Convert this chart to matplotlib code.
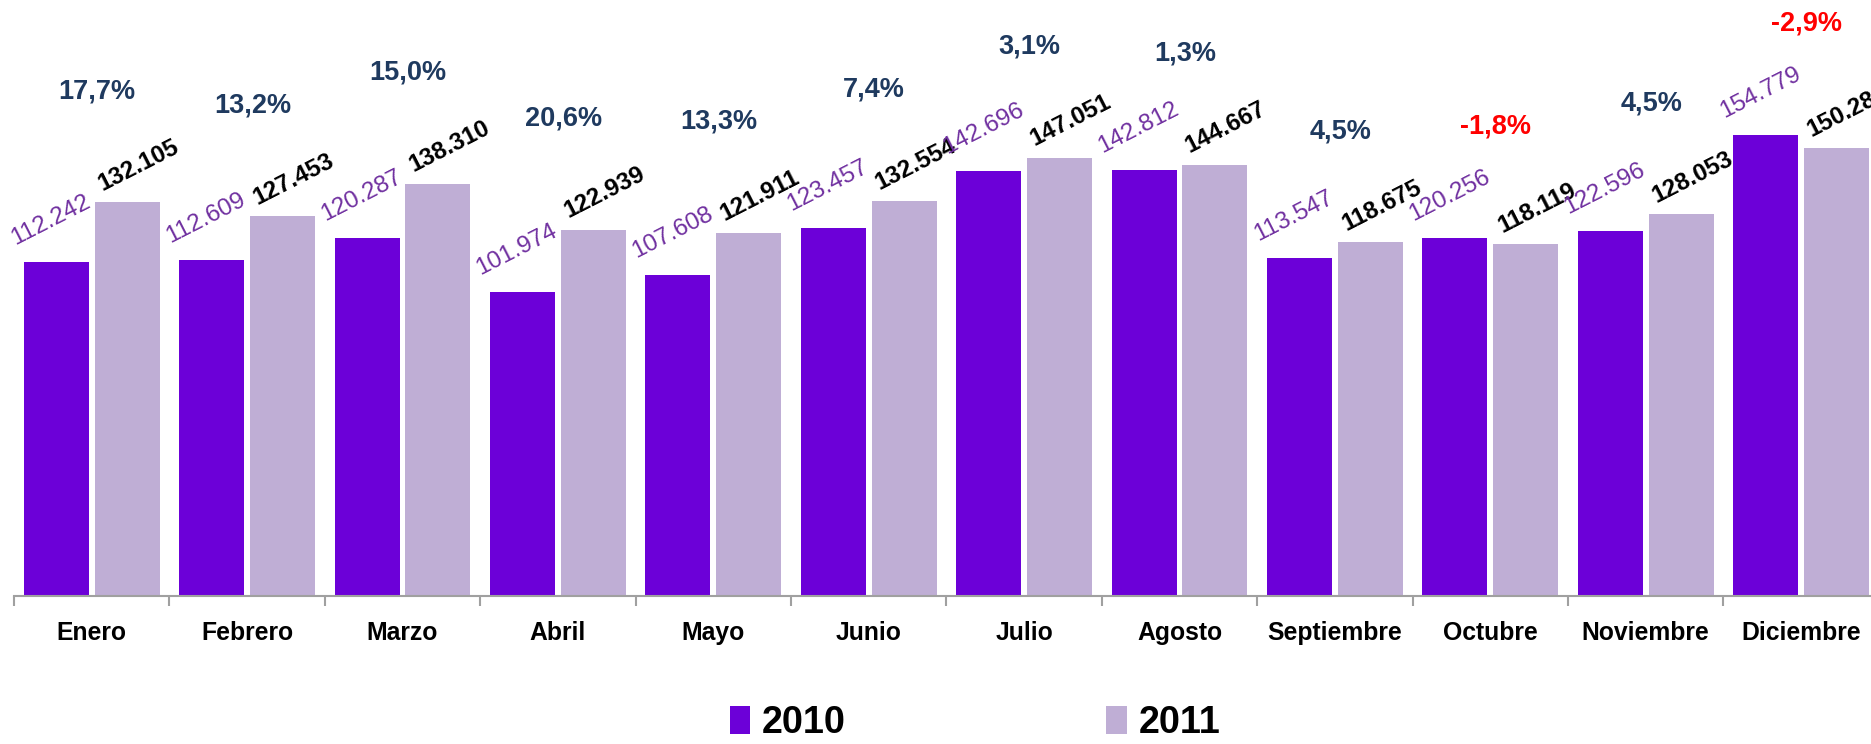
import numpy as np
import matplotlib
matplotlib.use("Agg")
import matplotlib.pyplot as plt
from matplotlib import font_manager
from matplotlib.patches import Patch

# ---- data (thousands) ----
months = ["Enero", "Febrero", "Marzo", "Abril", "Mayo", "Junio", "Julio",
          "Agosto", "Septiembre", "Octubre", "Noviembre", "Diciembre"]
vals_2010 = [112.242, 112.609, 120.287, 101.974, 107.608, 123.457,
             142.696, 142.812, 113.547, 120.256, 122.596, 154.779]
vals_2011 = [132.105, 127.453, 138.310, 122.939, 121.911, 132.554,
             147.051, 144.667, 118.675, 118.119, 128.053, 150.283]
growth_pct = [17.7, 13.2, 15.0, 20.6, 13.3, 7.4, 3.1, 1.3, 4.5, -1.8, 4.5, -2.9]

C_2010 = "#6C00D8"
C_2011 = "#BFAED5"
C_LBL_2010 = "#7030A0"
C_PCT = "#1F3A5F"
C_NEG = "#FF0000"

# narrow bold font for axis text, if present
try:
    font_manager.findfont("Liberation Sans Narrow", fallback_to_default=False)
    NARROW = "Liberation Sans Narrow"
    k = 1.0
except Exception:
    NARROW = "Liberation Sans"
    k = 0.85

fig = plt.figure(figsize=(18.71, 7.44), dpi=100)
ax = fig.add_axes([14 / 1871, 148 / 744, 12 * 155.4 / 1871, 1 - 148 / 744])

x = np.arange(len(months))
w = 0.418
off = 0.228
ax.bar(x - off, vals_2010, w, color=C_2010, label="2010")
ax.bar(x + off, vals_2011, w, color=C_2011, label="2011")

ax.set_xlim(-0.5, len(months) - 0.5)
ax.set_ylim(0, 200)

# value labels
for i in range(len(months)):
    ax.annotate(f"{vals_2010[i]:.3f}", (x[i] - off, vals_2010[i]),
                xytext=(-4, 9), textcoords="offset points",
                ha="center", va="bottom", rotation=27,
                color=C_LBL_2010, fontsize=17.5, family="Liberation Sans")
    ax.annotate(f"{vals_2011[i]:.3f}", (x[i] + off, vals_2011[i]),
                xytext=(8, 5), textcoords="offset points",
                ha="center", va="bottom", rotation=27,
                color="black", fontsize=17.5, fontweight="bold",
                family="Liberation Sans")
    top = max(vals_2010[i], vals_2011[i])
    pct = f"{growth_pct[i]:.1f}%".replace(".", ",")
    ax.annotate(pct, (x[i], top), xytext=(4, 80), textcoords="offset points",
                ha="center", va="center",
                color=C_NEG if growth_pct[i] < 0 else C_PCT,
                fontsize=19.5, fontweight="bold", family=NARROW)

# axes styling
for s in ["top", "right", "left"]:
    ax.spines[s].set_visible(False)
ax.spines["bottom"].set_color("#A0A0A0")
ax.spines["bottom"].set_linewidth(1.5)
ax.set_yticks([])
ax.set_xticks(x)
ax.set_xticklabels(months, fontsize=21 * k, fontweight="bold", family=NARROW)
ax.tick_params(axis="x", which="major", length=0, pad=18)
ax.set_xticks(np.arange(-0.5, len(months), 1.0), minor=True)
ax.tick_params(axis="x", which="minor", length=7, width=1.5, color="#A0A0A0")

handles = [Patch(facecolor=C_2010), Patch(facecolor=C_2011)]
fig.legend(handles, ["2010", "2011"], loc="center", bbox_to_anchor=(0.521, 0.028),
           ncol=2, frameon=False, handlelength=0.55, handleheight=0.75,
           handletextpad=0.3, columnspacing=6.9, borderpad=0.1,
           prop={"family": NARROW, "weight": "bold", "size": 32 * k})

fig.savefig("out.png", dpi=100)
